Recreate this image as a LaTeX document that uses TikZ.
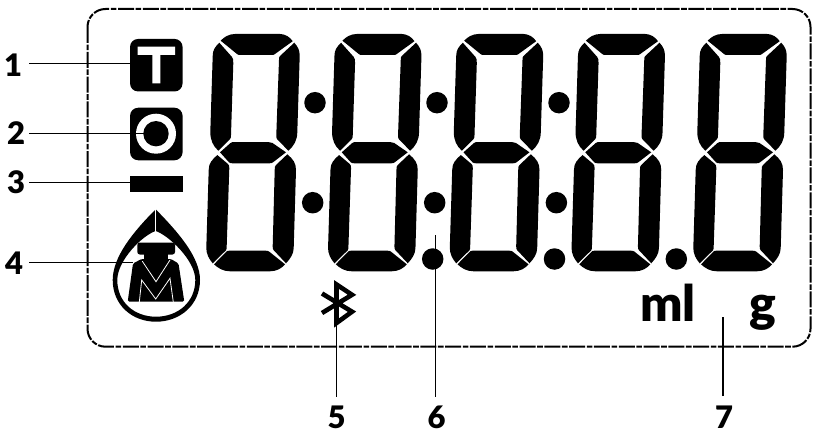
\documentclass[tikz,border=0pt]{standalone}
\usepackage{fontspec}
\setmainfont{Lato}[BoldFont={Lato Black}]
\tikzset{
  x=1pt,y=-1pt,
  seg/.style={fill=black,draw=none},
  dotd/.style={circle,fill=black,inner sep=0pt,minimum size=21.5pt},
  lead/.style={draw=black,line width=1.2pt},
  icon/.style={fill=black,rounded corners=8pt,minimum size=52.5pt,inner sep=0pt},
  num/.style={font=\fontsize{31}{31}\selectfont\bfseries,inner sep=0pt},
  unit/.style={font=\fontsize{50}{50}\selectfont\bfseries,inner sep=0pt,anchor=base},
}
\newcommand{\digitshape}[1]{%
\begin{scope}[shift={(#1,0)}]
 \fill[seg] (220.7,40.7) .. controls (224,37) and (229,34) .. (235,34) -- (280,34) .. controls (285,34) and (290,37) .. (292.7,41.2) -- (275,54) .. controls (274,55) and (273,55) .. (271,55) -- (241,55) .. controls (239,55) and (238,55) .. (237,54) -- cycle;
 \fill[seg] (219.3,42.7) .. controls (215,47) and (212.7,50) .. (212.7,56) -- (210.3,132) .. controls (210.3,140) and (213,146) .. (218.3,150.7) -- (230,139) .. controls (231,138) and (231,137) .. (231,135) -- (233.3,63) .. controls (233.3,60) and (233,58) .. (232,57) -- cycle;
 \fill[seg] (294.3,42.7) .. controls (298,47) and (299.7,50) .. (299.7,56) -- (297.3,132) .. controls (297.3,140) and (294,146) .. (288.3,150.7) -- (277,139) .. controls (276.3,138) and (276.3,137) .. (276.3,135) -- (279,60) .. controls (279,58) and (279,57) .. (280,56) -- cycle;
 \fill[seg] (220,152.3) -- (230.5,143) .. controls (231.5,142) and (233,142) .. (235,142) -- (268,142) .. controls (270,142) and (271,142) .. (272.5,143) -- (286,152.3) -- (273,162.3) .. controls (272,163.3) and (271,163.3) .. (269,163.3) -- (233,163.3) .. controls (231,163.3) and (230,163.3) .. (229,162.3) -- cycle;
 \fill[seg] (217.3,155) .. controls (212,160) and (208.7,163) .. (208.7,170) -- (206.3,248) .. controls (206.3,254) and (209,259) .. (212.7,263.3) -- (226,250.3) .. controls (226.7,249.3) and (226.7,248) .. (226.7,246) -- (229.3,168) .. controls (229.3,166) and (229,165) .. (228,164) -- cycle;
 \fill[seg] (287.3,154.3) .. controls (293,159) and (296,163) .. (296,170) -- (293.7,248) .. controls (293.7,254) and (290,259) .. (286,263.3) -- (273.5,250) .. controls (272.7,249) and (272.7,248) .. (272.7,246) -- (274.7,170) .. controls (274.7,167) and (275,166) .. (276,165) -- cycle;
 \fill[seg] (214,264.3) -- (226.5,251.5) .. controls (227.3,250.7) and (228,250.7) .. (230,250.7) -- (265,250.7) .. controls (267,250.7) and (268,250.7) .. (269,251.5) -- (285,264.3) .. controls (282,268) and (277,271.3) .. (270,271.3) -- (230,271.3) .. controls (223,271.3) and (218,268) .. (214,264.3) -- cycle;
\end{scope}}
\begin{document}
\begin{tikzpicture}
\useasboundingbox (0,0) rectangle (813,433);
% frame
\draw[line width=2pt,dash pattern=on 16pt off 1.6pt on 5.6pt off 1.6pt,rounded corners=18pt] (87.5,9) rectangle (810.5,346.7);
% digits
\foreach \d in {0,121.75,243.5,365.25,487}{\digitshape{\d}}
% dots
\node[dotd] (d1) at (315,102.7) {};
\node[dotd] (d2) at (437,102.7) {};
\node[dotd] (d3) at (559,102.7) {};
\node[dotd] (d4) at (312.7,202.7) {};
\node[dotd] (d5) at (434.7,202.7) {};
\node[dotd] (d6) at (556.4,202.7) {};
\node[dotd] (d7) at (432.7,259) {};
\node[dotd] (d8) at (554.5,259) {};
\node[dotd] (d9) at (676.3,259) {};
% T icon
\node[icon] (iT) at (156.3,65.2) {};
\fill[white] (137.7,46.7) rectangle (175,55) (152.3,55) rectangle (160.3,83.3);
% O icon
\node[icon] (iO) at (156.3,134) {};
\fill[white] (156,133.7) circle (20);
\fill[black] (156,133.7) circle (12.7);
% bar
\node[fill=black,minimum width=53pt,minimum height=16pt,inner sep=0pt] (iB) at (156.5,184) {};
% drop logo
\fill[black,even odd rule]
  (155.7,209.3) .. controls (133,232) and (112.7,257) .. (112.7,280) .. controls (112.7,305) and (132,321.7) .. (156,321.7) .. controls (180,321.7) and (200,305) .. (200,280) .. controls (200,257) and (178,232) .. (155.7,209.3) -- cycle
  (155.7,231) .. controls (143,235) and (117.3,260) .. (117.3,280) .. controls (117.3,302) and (134,316.7) .. (156,316.7) .. controls (178,316.7) and (195.3,302) .. (195.3,280) .. controls (195.3,260) and (168,235) .. (155.7,231) -- cycle;
\draw[white,line width=1.3pt] (155.7,205) -- (155.7,232);
% weight/M
\fill[black,rounded corners=2.5pt] (137.3,242.5) rectangle (175,254.5);
\fill[black] (144,252) rectangle (168,262);
\fill[black,rounded corners=1.5pt] (133,263.5) -- (141.5,259) -- (171,259) -- (178.5,263.5) -- (184.3,301.7) -- (127.7,301.7) -- cycle;
\draw[white,line width=.8pt,line join=miter] (142.3,261.2) -- (156,281.7) -- (170,260);
\draw[white,line width=.8pt,line join=miter] (139.3,302) -- (141.7,280) -- (155.7,299) -- (170,278.3) -- (173.3,302);
% bluetooth
\draw[black,line width=4.6pt,miter limit=10] (322,313) -- (352,294.8) -- (336.5,284.5) -- (336.5,323) -- (352,311.7) -- (322,293.5);
\coordinate (bt) at (336.3,324);
% units
\node[unit] (ml) at (668,321.7) {ml};
\node[unit] (gg) at (763,321.7) {g};
% labels
\node[num] (n1) at (13,65) {1};
\node[num] (n2) at (16,133.5) {2};
\node[num] (n3) at (16,182.5) {3};
\node[num] (n4) at (14,263) {4};
\node[num] (n5) at (336.7,417) {5};
\node[num] (n6) at (436.5,417) {6};
\node[num] (n7) at (724,417) {7};
% connector ends
\coordinate (a1) at (29,63.4);
\coordinate (a2) at (29,133.5);
\coordinate (a3) at (29,182.3);
\coordinate (a4) at (29,262.3);
\coordinate (a5) at (336.3,396.7);
\coordinate (a6) at (435.3,396.7);
\coordinate (a7) at (723,396);
\coordinate (b1) at (130,63.4);
\coordinate (b2) at (143.5,133.5);
\coordinate (b3) at (130,182.3);
\coordinate (b4) at (133,262.3);
\coordinate (b6) at (435.3,235);
\coordinate (b7) at (723,316.7);
\draw[lead] (a1) -- (b1);
\draw[lead] (a2) -- (b2);
\draw[lead] (a3) -- (b3);
\draw[lead] (a4) -- (b4);
\draw[lead] (a5) -- (bt);
\draw[lead] (a6) -- (b6);
\draw[lead] (a7) -- (b7);
\end{tikzpicture}
\end{document}
